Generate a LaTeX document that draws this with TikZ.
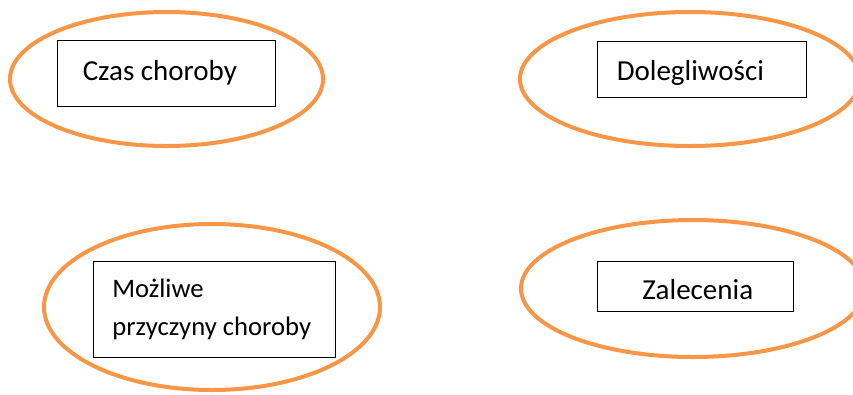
\documentclass[tikz,border=0pt]{standalone}
\usepackage{fontspec}
\setmainfont{Carlito}
\definecolor{pomarancz}{RGB}{247,150,70}
\tikzset{
  owal/.style={draw=pomarancz, line width=3pt},
  ramka/.style={draw=black, line width=0.75pt},
  napis/.style={anchor=base west, inner sep=0pt, font=\fontsize{21.75}{26.5}\selectfont},
  napismaly/.style={napis, font=\fontsize{20}{24.4}\selectfont},
}

\begin{document}
\begin{tikzpicture}[x=0.75pt,y=-0.75pt]
  % Obszar rysunku
  \clip (0,0) rectangle (853,394);
  % Owale
  \draw[owal] (166.5,79) ellipse [x radius=156.5, y radius=67];
  \draw[owal] (690,79) ellipse [x radius=170, y radius=67];
  \draw[owal] (212,307) ellipse [x radius=168, y radius=83];
  \draw[owal] (693,288.5) ellipse [x radius=172, y radius=68.5];
  % Ramki
  \draw[ramka] (57,40) rectangle (275,106);
  \draw[ramka] (597,41) rectangle (806,97);
  \draw[ramka] (93,261) rectangle (335,357);
  \draw[ramka] (597,261) rectangle (793,311);
  % Napisy
  \node[napis] (czas) at (82.5,80) {Czas choroby};
  \node[napis] (dolegliwosci) at (616.5,80) {Dolegliwości};
  \node[napismaly] (mozliwe) at (112,297) {Możliwe};
  \node[napismaly] (przyczyny) at (112,335) {przyczyny choroby};
  \node[napis] (zalecenia) at (642,299) {Zalecenia};
\end{tikzpicture}
\end{document}
